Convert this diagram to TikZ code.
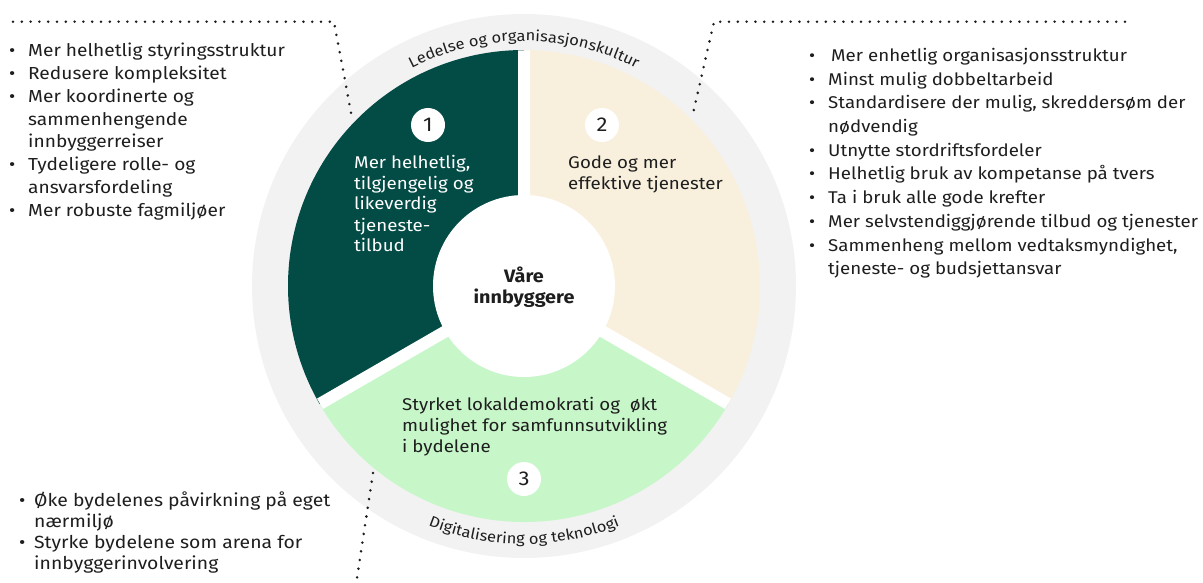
\documentclass[tikz,border=0pt]{standalone}
\usepackage{fontspec}
\setmainfont{Fira Sans}[FakeStretch=1.1]
\usetikzlibrary{decorations.text}
\definecolor{dkgreen}{HTML}{034B45}
\definecolor{beige}{HTML}{F8F0DD}
\definecolor{ltgreen}{HTML}{C7F6C9}
\definecolor{ringgray}{HTML}{F2F2F2}
\definecolor{ink}{HTML}{1E1E1E}
\newcommand{\lfont}{\fontsize{17.4}{22.8}\selectfont}
\newcommand{\rfont}{\fontsize{17}{23.7}\selectfont}
\newcommand{\bfont}{\fontsize{17.6}{21.3}\selectfont}
\newcommand{\sfont}{\fontsize{17}{21}\selectfont}
\newcommand{\arcfont}{\fontsize{15}{18}\selectfont}
\newcommand{\bl}{\makebox[19pt][l]{•}}
\newcommand{\blb}{\makebox[15pt][l]{•}}
\begin{document}
\begin{tikzpicture}[x=1pt,y=1pt,
  txt/.style={inner sep=0pt, text=ink, anchor=base west},
  sectortxt/.style={inner sep=0pt, anchor=base west, font=\sfont},
  numcirc/.style={circle, fill=white, minimum size=34pt, inner sep=0pt, text=ink, font=\fontsize{20}{22}\selectfont},
  dotline/.style={line width=2.8pt, dash pattern=on 0pt off 8.8pt, line cap=round, ink}]
\useasboundingbox (0,0) rectangle (1203,-583);

% wheel
\coordinate (C) at (524,-286);
\begin{scope}[shift={(C)}]
  \fill[ringgray] (0,0) circle (272);
  \fill[dkgreen] (0,0) -- (90:236) arc[start angle=90, end angle=210, radius=236] -- cycle;
  \fill[beige] (0,0) -- (-30:236) arc[start angle=-30, end angle=90, radius=236] -- cycle;
  \fill[ltgreen] (0,0) -- (210:236) arc[start angle=210, end angle=330, radius=236] -- cycle;
  \draw[white, line width=12pt] (0,0) -- (90:235.5) (0,0) -- (210:235.5) (0,0) -- (330:235.5);
  \fill[white] (0,0) circle (91);
  \path[decorate, decoration={text along path, text align=center,
      text={|\arcfont\color{ink}|Ledelse og organisasjonskultur}}]
      (150:245) arc[start angle=150, end angle=30, radius=245];
  \path[decorate, decoration={text along path, text align=center,
      text={|\arcfont\color{ink}|Digitalisering og teknologi}}]
      (210:258) arc[start angle=210, end angle=330, radius=258];
\end{scope}

% centre
\node[txt, anchor=base, font=\fontsize{18}{21}\selectfont\bfseries] (center) at (524,-282)
  {\begin{tabular}[t]{@{}c@{}}Våre\\innbyggere\end{tabular}};

% numbers
\node[numcirc] (n1) at (428,-125) {1};
\node[numcirc] (n2) at (602,-125) {2};
\node[numcirc] (n3) at (524,-479) {3};

% sector texts
\node[sectortxt, text=white] (s1) at (354,-168)
  {\begin{tabular}[t]{@{}l@{}}Mer helhetlig,\\tilgjengelig og\\likeverdig\\tjeneste-\\tilbud\end{tabular}};
\node[sectortxt, text=ink] (s2) at (568,-168)
  {\begin{tabular}[t]{@{}l@{}}Gode og mer\\effektive tjenester\end{tabular}};
\node[sectortxt, text=ink] (s3) at (402,-410)
  {\begin{tabular}[t]{@{}l@{}}Styrket lokaldemokrati og\ \ økt\\mulighet for samfunnsutvikling\\i bydelene\end{tabular}};

% bullet lists
\node[txt, font=\lfont] (listL) at (9,-56.7)
  {\begin{tabular}[t]{@{}l@{}l@{}}
  \bl & Mer helhetlig styringsstruktur\\
  \bl & Redusere kompleksitet\\
  \bl & Mer koordinerte og\\
      & sammenhengende\\
      & innbyggerreiser\\
  \bl & Tydeligere rolle- og\\
      & ansvarsfordeling\\
  \bl & Mer robuste fagmiljøer
  \end{tabular}};
\node[txt, font=\rfont] (listR) at (809,-61.5)
  {\begin{tabular}[t]{@{}l@{}l@{}}
  \bl & \hspace{3pt}Mer enhetlig organisasjonsstruktur\\
  \bl & Minst mulig dobbeltarbeid\\
  \bl & Standardisere der mulig, skreddersøm der\\
      & nødvendig\\
  \bl & Utnytte stordriftsfordeler\\
  \bl & Helhetlig bruk av kompetanse på tvers\\
  \bl & Ta i bruk alle gode krefter\\
  \bl & Mer selvstendiggjørende tilbud og tjenester\\
  \bl & Sammenheng mellom vedtaksmyndighet,\\
      & tjeneste- og budsjettansvar
  \end{tabular}};
\node[txt, font=\bfont] (listB) at (19,-506)
  {\begin{tabular}[t]{@{}l@{}l@{}}
  \blb & Øke bydelenes påvirkning på eget\\
       & nærmiljø\\
  \blb & Styrke bydelene som arena for\\
       & innbyggerinvolvering
  \end{tabular}};

% dotted leaders
\coordinate (a1) at (13,-21.7);
\coordinate (a2) at (334,-21.7);
\coordinate (a3) at (352,-118);
\coordinate (b1) at (1125,-21.7);
\coordinate (b2) at (714,-21.7);
\coordinate (b3) at (692,-118);
\coordinate (c1) at (373,-473);
\coordinate (c2) at (357,-578);
\draw[dotline] (a1) -- (a2) -- (a3);
\draw[dotline] (b1) -- (b2) -- (b3);
\draw[dotline] (c1) -- (c2);
\end{tikzpicture}
\end{document}
